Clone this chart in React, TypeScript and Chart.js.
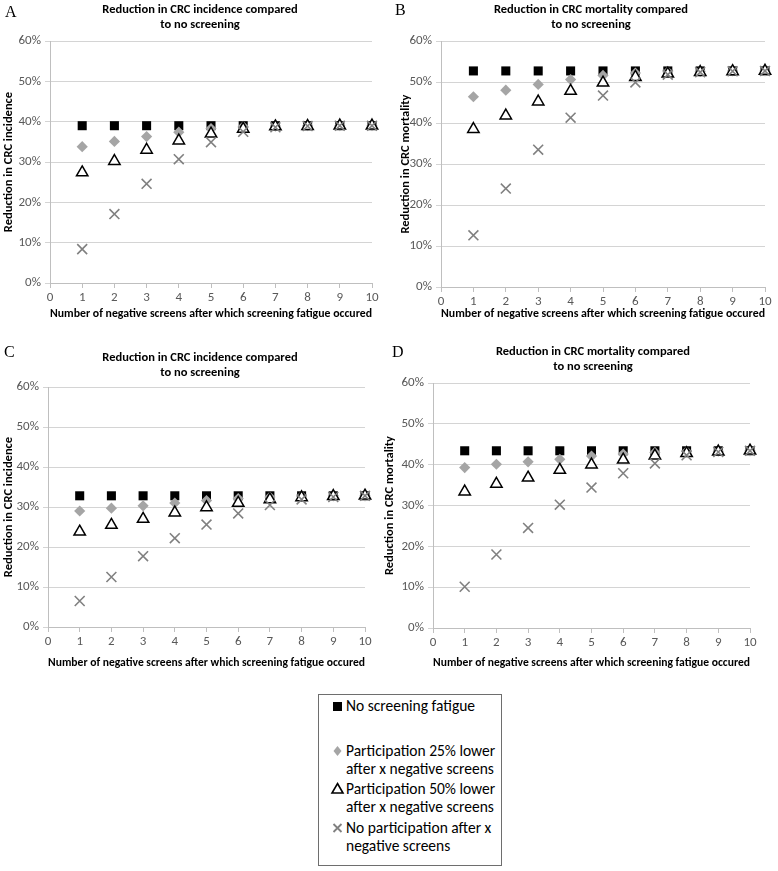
import React, { useEffect, useRef } from "react";
import { Chart, registerables } from "chart.js";
Chart.register(...registerables);

const FONT = "Carlito, Calibri, Lato, 'Noto Sans', sans-serif";

// x categories: number of negative screens
const xValues = [1, 2, 3, 4, 5, 6, 7, 8, 9, 10];
const seriesNames = [
  "No screening fatigue",
  "Participation 25% lower after x negative screens",
  "Participation 50% lower after x negative screens",
  "No participation after x negative screens",
];
const yTickValues = [0, 10, 20, 30, 40, 50, 60];
const xTitle = "Number of negative screens after which screening fatigue occured";

// Panel A — reduction in CRC incidence (%)
const aNone = [39.0, 39.0, 39.0, 39.0, 39.0, 39.0, 39.0, 39.0, 39.0, 39.0];
const aP25 = [33.8, 35.1, 36.3, 37.4, 38.3, 38.8, 38.9, 39.0, 39.0, 39.0];
const aP50 = [27.4, 30.2, 33.0, 35.3, 37.0, 38.2, 38.8, 38.9, 39.0, 39.0];
const aNoPart = [8.4, 17.1, 24.6, 30.7, 34.9, 37.5, 38.6, 38.9, 39.0, 39.0];

// Panel B — reduction in CRC mortality (%)
const bNone = [52.7, 52.7, 52.7, 52.7, 52.7, 52.7, 52.7, 52.7, 52.7, 52.7];
const bP25 = [46.4, 48.0, 49.4, 50.6, 51.6, 52.2, 52.5, 52.6, 52.7, 52.7];
const bP50 = [38.5, 41.8, 45.2, 47.8, 49.8, 51.2, 52.0, 52.4, 52.6, 52.7];
const bNoPart = [12.6, 24.0, 33.5, 41.3, 46.7, 49.9, 51.8, 52.4, 52.6, 52.7];

// Panel C — reduction in CRC incidence (%)
const cNone = [32.8, 32.8, 32.8, 32.8, 32.8, 32.8, 32.8, 32.8, 32.8, 32.8];
const cP25 = [29.0, 29.7, 30.3, 31.0, 31.6, 32.1, 32.5, 32.7, 32.8, 32.8];
const cP50 = [23.8, 25.5, 27.0, 28.6, 29.9, 31.0, 31.9, 32.4, 32.7, 32.8];
const cNoPart = [6.5, 12.5, 17.7, 22.2, 25.6, 28.4, 30.5, 31.9, 32.5, 32.8];

// Panel D — reduction in CRC mortality (%)
const dNone = [43.4, 43.4, 43.4, 43.4, 43.4, 43.4, 43.4, 43.4, 43.4, 43.4];
const dP25 = [39.3, 40.1, 40.7, 41.3, 42.1, 42.6, 43.0, 43.2, 43.3, 43.4];
const dP50 = [33.4, 35.3, 36.8, 38.7, 40.0, 41.2, 42.2, 42.8, 43.2, 43.4];
const dNoPart = [10.1, 18.0, 24.5, 30.2, 34.4, 37.9, 40.3, 42.3, 43.1, 43.4];

const toPts = (arr: number[]) => xValues.map((x, i) => ({ x, y: arr[i] }));

type PanelProps = {
  left: number; top: number; width: number; height: number;
  padTop: number; padRight: number; padBottom: number;
  yWidth: number; xHeight: number; yTitlePad: number;
  yTitle: string;
  none: number[]; p25: number[]; p50: number[]; noPart: number[];
};

function Panel(p: PanelProps) {
  const ref = useRef<HTMLCanvasElement>(null);
  useEffect(() => {
    const chart = new Chart(ref.current as HTMLCanvasElement, {
      type: "scatter",
      data: {
        datasets: [
          { label: seriesNames[0], data: toPts(p.none), pointStyle: "rect", pointRadius: 6.4, backgroundColor: "#000000", borderColor: "#000000", borderWidth: 0, order: 4, clip: false } as any,
          { label: seriesNames[1], data: toPts(p.p25), pointStyle: "rectRot", pointRadius: 5.6, backgroundColor: "#a5a5a5", borderColor: "#a5a5a5", borderWidth: 0, order: 3, clip: false } as any,
          { label: seriesNames[2], data: toPts(p.p50), pointStyle: "triangle", pointRadius: 6.6, backgroundColor: "#ffffff", borderColor: "#000000", borderWidth: 1.5, order: 2, clip: false } as any,
          { label: seriesNames[3], data: toPts(p.noPart), pointStyle: "crossRot", pointRadius: 7, backgroundColor: "#808080", borderColor: "#808080", borderWidth: 1.6, order: 1, clip: false } as any,
        ],
      },
      options: {
        animation: false,
        responsive: false,
        maintainAspectRatio: false,
        events: [],
        layout: { padding: { left: 0, top: p.padTop, right: p.padRight, bottom: p.padBottom } },
        plugins: { legend: { display: false }, tooltip: { enabled: false }, title: { display: false } },
        scales: {
          x: {
            type: "linear",
            min: 0,
            max: 10,
            ticks: { stepSize: 1, color: "#595959", font: { family: FONT, size: 13 }, padding: 2, maxRotation: 0 },
            grid: { display: true, drawOnChartArea: false, drawTicks: true, tickLength: 5, color: "#bfbfbf" },
            border: { display: true, color: "#bfbfbf", width: 1 },
            title: { display: true, text: xTitle, color: "#000000", font: { family: FONT, size: 12.5, weight: "bold" }, padding: { top: 0, bottom: 0 } },
            afterFit: (s: any) => { s.height = p.xHeight; },
          },
          y: {
            type: "linear",
            min: 0,
            max: 60,
            afterBuildTicks: (s: any) => { s.ticks = yTickValues.map((v) => ({ value: v })); },
            ticks: { color: "#595959", font: { family: FONT, size: 13 }, padding: 4, callback: (v: any) => `${v}%` },
            grid: { color: "#d4d4d4", tickLength: 5, lineWidth: 1 },
            border: { display: true, color: "#bfbfbf", width: 1 },
            title: { display: true, text: p.yTitle, color: "#000000", font: { family: FONT, size: 12.5, weight: "bold" }, padding: { top: p.yTitlePad, bottom: 0 } },
            afterFit: (s: any) => { s.width = p.yWidth; },
          },
        },
      } as any,
    });
    return () => chart.destroy();
  }, []);
  return (
    <canvas
      ref={ref}
      width={p.width}
      height={p.height}
      style={{ position: "absolute", left: p.left, top: p.top, width: p.width, height: p.height }}
    />
  );
}

const letterStyle = (left: number, top: number): React.CSSProperties => ({
  position: "absolute", left, top, fontFamily: "'Liberation Serif', 'DejaVu Serif', serif", fontSize: 16, lineHeight: "16px", color: "#000",
});

const titleStyle = (cx: number, top: number): React.CSSProperties => ({
  position: "absolute", left: cx - 150, top, width: 300, textAlign: "center", fontFamily: FONT, fontWeight: "bold", fontSize: 12.5, lineHeight: "14.5px", color: "#000",
});

const legendText: React.CSSProperties = {
  position: "absolute", left: 346, fontFamily: FONT, fontSize: 15.5, lineHeight: "17.5px", color: "#000", whiteSpace: "nowrap",
};

export default function App() {
  return (
    <div style={{ position: "absolute", left: 0, top: 0, width: 778, height: 871, background: "#fff", overflow: "hidden" }}>
      <Panel left={0} top={0} width={388} height={325} padTop={41} padRight={16} padBottom={4} yWidth={50} xHeight={38} yTitlePad={1}
        yTitle="Reduction in CRC incidence" none={aNone} p25={aP25} p50={aP50} noPart={aNoPart} />
      <Panel left={388} top={0} width={390} height={325} padTop={41} padRight={13} padBottom={4} yWidth={53} xHeight={34} yTitlePad={10}
        yTitle="Reduction in CRC mortality" none={bNone} p25={bP25} p50={bP50} noPart={bNoPart} />
      <Panel left={0} top={340} width={388} height={334} padTop={47} padRight={23} padBottom={4} yWidth={48} xHeight={43} yTitlePad={1}
        yTitle="Reduction in CRC incidence" none={cNone} p25={cP25} p50={cP50} noPart={cNoPart} />
      <Panel left={378} top={340} width={400} height={334} padTop={43} padRight={28} padBottom={4} yWidth={55} xHeight={42} yTitlePad={4}
        yTitle="Reduction in CRC mortality" none={dNone} p25={dP25} p50={dP50} noPart={dNoPart} />

      <div style={letterStyle(5, 4)}>A</div>
      <div style={letterStyle(395, 2)}>B</div>
      <div style={letterStyle(4, 344)}>C</div>
      <div style={letterStyle(392, 344)}>D</div>

      <div style={titleStyle(200, 2)}>Reduction in CRC incidence compared<br />to no screening</div>
      <div style={titleStyle(591, 2)}>Reduction in CRC mortality compared<br />to no screening</div>
      <div style={titleStyle(200, 350)}>Reduction in CRC incidence compared<br />to no screening</div>
      <div style={titleStyle(593, 344)}>Reduction in CRC mortality compared<br />to no screening</div>

      <div style={{ position: "absolute", left: 318, top: 694, width: 184, height: 172, boxSizing: "border-box", border: "1px solid #6e6e6e" }} />
      <svg style={{ position: "absolute", left: 318, top: 694 }} width={30} height={172}>
        <rect x={15} y={8} width={9} height={9} fill="#000" />
        <polygon points="19.5,52 23.5,57 19.5,62 15.5,57" fill="#a5a5a5" />
        <polygon points="19.5,89.5 25,99 14,99" fill="#fff" stroke="#000" strokeWidth={1.6} />
        <path d="M15.5,130 L23.5,138 M23.5,130 L15.5,138" stroke="#808080" strokeWidth={1.8} />
      </svg>
      <div style={{ ...legendText, top: 697 }}>No screening fatigue</div>
      <div style={{ ...legendText, top: 742 }}>Participation 25% lower<br />after x negative screens</div>
      <div style={{ ...legendText, top: 780 }}>Participation 50% lower<br />after x negative screens</div>
      <div style={{ ...legendText, top: 819 }}>No participation after x<br />negative screens</div>
    </div>
  );
}
